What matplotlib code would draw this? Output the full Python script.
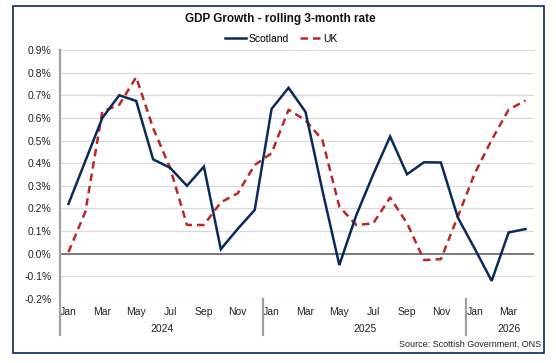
import matplotlib
matplotlib.use("Agg")
import matplotlib.pyplot as plt
from matplotlib.patches import Rectangle
import matplotlib.transforms as mtransforms

plt.rcParams['font.family'] = ['Liberation Sans', 'DejaVu Sans']

# monthly categories Jan 2024 .. Apr 2026
months = ["Jan", "Feb", "Mar", "Apr", "May", "Jun", "Jul", "Aug", "Sep", "Oct", "Nov", "Dec"] * 2 + ["Jan", "Feb", "Mar", "Apr"]
years = ["2024", "2025", "2026"]
year_pos = [5.5, 17.5, 26]
year_breaks = [-0.5, 11.5, 23.5]

scotland = [0.22, 0.41, 0.60, 0.70, 0.675, 0.417, 0.38, 0.30, 0.385, 0.02, 0.11, 0.193,
            0.64, 0.733, 0.627, 0.28, -0.05, 0.17, 0.35, 0.518, 0.351, 0.404, 0.403, 0.16,
            0.022, -0.12, 0.094, 0.109]
uk = [0.007, 0.186, 0.628, 0.658, 0.78, 0.555, 0.38, 0.127, 0.127, 0.227, 0.267, 0.392,
      0.444, 0.636, 0.59, 0.503, 0.208, 0.127, 0.134, 0.248, 0.135, -0.028, -0.024, 0.164,
      0.355, 0.503, 0.636, 0.677]

yticks = [-0.2, -0.1, 0.0, 0.1, 0.2, 0.3, 0.4, 0.5, 0.6, 0.7, 0.8, 0.9]

navy = "#0b2a5a"
red = "#b8282a"

fig = plt.figure(figsize=(5.56, 3.63), dpi=100)
fig.patches.append(Rectangle((13 / 556, 1 - 353 / 363), 531 / 556, 347 / 363,
                             transform=fig.transFigure, fill=False, edgecolor="#0b2a5a", lw=1.2))

ax = fig.add_axes([60 / 556, 1 - 299 / 363, 474 / 556, 249 / 363])
x = list(range(len(months)))

for v in yticks:
    if v == 0:
        continue
    ax.axhline(v, color="#d9d9d9", lw=0.9, zorder=0)
ax.axhline(0, color="#6e6e6e", lw=1.3, zorder=1)

ax.plot(x, scotland, color=navy, lw=1.8, label="Scotland", zorder=3, solid_joinstyle="miter")
ax.plot(x, uk, color=red, lw=1.8, ls=(0, (3, 2)), label="UK", zorder=2)

ax.set_xlim(-0.5, len(months) - 0.5)
ax.set_ylim(-0.2, 0.9)
ax.set_yticks(yticks)
ax.set_yticklabels([f"{v:.1f}%" for v in yticks], fontsize=7.5, color="#222222")
ax.set_xticks(x[::2])
ax.set_xticklabels(months[::2], fontsize=7.5, color="#222222")
ax.tick_params(axis="x", length=0, pad=6)
ax.tick_params(axis="y", length=0, pad=6)
for s in ax.spines.values():
    s.set_visible(False)

trans = mtransforms.blended_transform_factory(ax.transData, ax.transAxes)
ax.plot([-0.5, -0.5], [1, -0.145], color="#a0a0a0", lw=1.6, transform=trans, clip_on=False)
for b in year_breaks[1:]:
    ax.plot([b, b], [0, -0.145], color="#a0a0a0", lw=1.6, transform=trans, clip_on=False)
for yr, p in zip(years, year_pos):
    ax.text(p, -0.12, yr, transform=trans, ha="center", va="center", fontsize=7.5, color="#222222")

fig.text(0.504, 0.948, "GDP Growth - rolling 3-month rate", ha="center", va="center",
         fontsize=8.5, fontweight="bold", color="#111111")
fig.legend(loc="center", bbox_to_anchor=(0.506, 0.893), ncol=2, frameon=False, fontsize=7.5,
           handlelength=2.0, handletextpad=0.3, columnspacing=1.0)
fig.text(541 / 556, 1 - 344 / 363, "Source: Scottish Government, ONS", ha="right", va="center",
         fontsize=6.5, color="#222222")

fig.savefig("out.png", dpi=100)
